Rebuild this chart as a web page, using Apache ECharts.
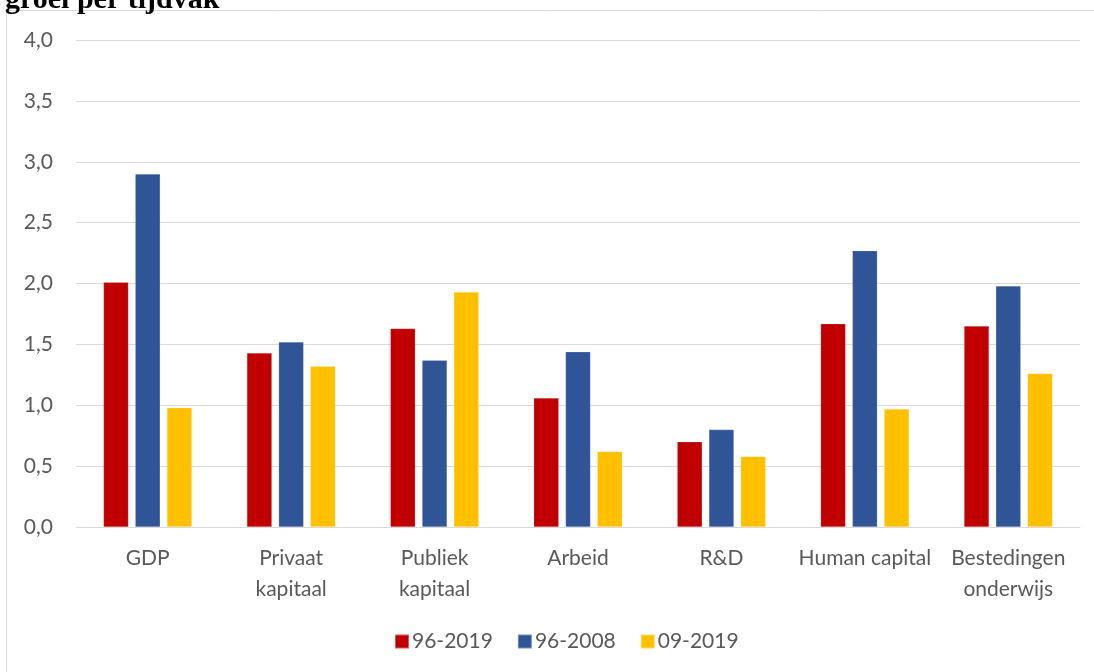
<!DOCTYPE html>
<html>
<head>
<meta charset="utf-8">
<script src="https://cdn.jsdelivr.net/npm/echarts@6/dist/echarts.min.js"></script>
<style>
html,body{margin:0;padding:0;background:#fff;}
#chart{width:1094px;height:672px;}
</style>
</head>
<body>
<div id="chart"></div>
<script>
var titleText = 'groei per tijdvak';
var categories = ['GDP', 'Privaat\nkapitaal', 'Publiek\nkapitaal', 'Arbeid', 'R&D', 'Human capital', 'Bestedingen\nonderwijs'];
var seriesNames = ['96-2019', '96-2008', '09-2019'];
var s1 = [2.01, 1.43, 1.63, 1.06, 0.70, 1.67, 1.65];
var s2 = [2.90, 1.52, 1.37, 1.44, 0.80, 2.27, 1.98];
var s3 = [0.98, 1.32, 1.93, 0.62, 0.58, 0.97, 1.26];
var colors = ['#C00000', '#2F5597', '#FFC000'];

var chart = echarts.init(document.getElementById('chart'), null, {renderer: 'canvas'});
var font = 'Lato, "Open Sans", sans-serif';
function mk(name, data, color) {
  return {
    name: name, type: 'bar', data: data, barWidth: 25, barGap: '27%',
    itemStyle: {color: color, borderColor: 'rgba(255,255,255,0.35)', borderWidth: 0.5},
    emphasis: {disabled: true}
  };
}
chart.setOption({
  animation: false,
  backgroundColor: '#fff',
  title: {
    text: titleText, left: 0, top: -20,
    textStyle: {fontFamily: '"Liberation Serif", "DejaVu Serif", serif', fontWeight: 'bold', fontSize: 30, color: '#000'}
  },
  graphic: [{
    type: 'rect', shape: {x: 6.5, y: 10.5, width: 1100, height: 700},
    style: {fill: 'none', stroke: '#d9d9d9', lineWidth: 1}, silent: true, z: -1
  }],
  legend: {
    data: seriesNames, bottom: 15, left: 389, itemWidth: 14, itemHeight: 14, itemGap: 24,
    icon: 'rect',
    textStyle: {fontFamily: font, fontSize: 21, color: '#595959', padding: [0, 0, 0, -2]}
  },
  grid: {left: 76, right: 14, top: 40, bottom: 145, containLabel: false},
  xAxis: {
    type: 'category', data: categories,
    axisLine: {lineStyle: {color: '#d9d9d9', width: 1}},
    axisTick: {show: false},
    axisLabel: {fontFamily: font, fontSize: 21, color: '#595959', margin: 16, lineHeight: 31, interval: 0}
  },
  yAxis: {
    type: 'value', min: 0, max: 4, interval: 0.5,
    axisLine: {show: false}, axisTick: {show: false},
    splitLine: {lineStyle: {color: '#d9d9d9', width: 1}},
    axisLabel: {fontFamily: font, fontSize: 21, color: '#595959', margin: 23,
      formatter: function (v) { return v.toFixed(1).replace('.', ','); }}
  },
  series: [mk(seriesNames[0], s1, colors[0]), mk(seriesNames[1], s2, colors[1]), mk(seriesNames[2], s3, colors[2])]
});
</script>
</body>
</html>
